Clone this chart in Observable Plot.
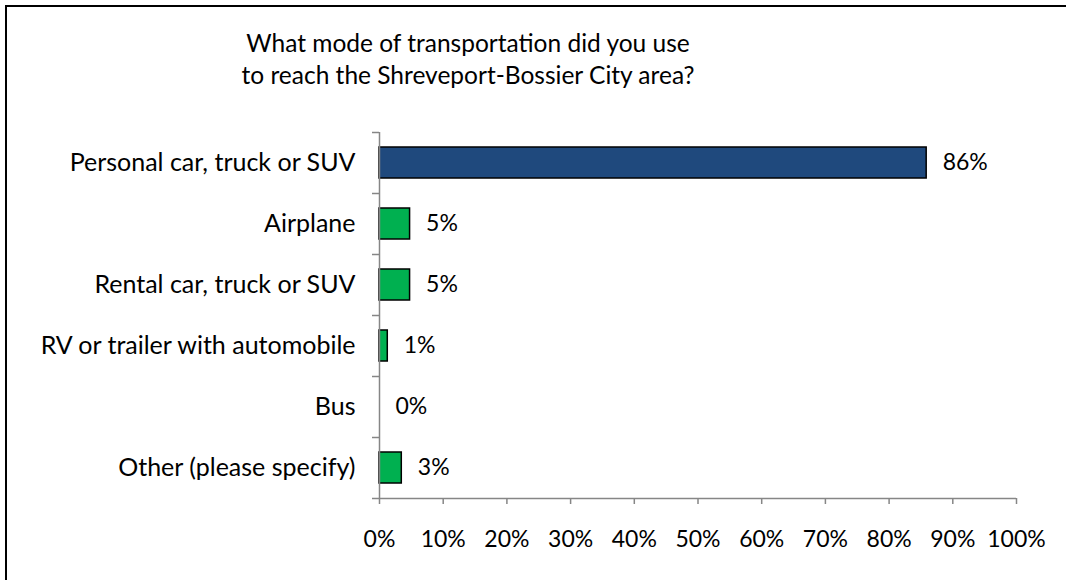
<!DOCTYPE html>
<html>
<head>
<meta charset="utf-8">
<script src="https://cdn.jsdelivr.net/npm/d3@7"></script>
<script src="https://cdn.jsdelivr.net/npm/@observablehq/plot@0.6"></script>
<style>
  html, body { margin: 0; padding: 0; background: #fff; overflow: hidden; }
  #wrap { position: relative; width: 1066px; height: 580px; overflow: hidden; background: #fff; font-family: Lato, "DejaVu Sans", sans-serif; }
  #frame { position: absolute; left: 5px; top: 5px; width: 1061px; height: 575px; box-sizing: border-box; border-top: 2px solid #000; border-left: 2px solid #000; border-right: none; border-bottom: none; }
  #title { position: absolute; left: 0; top: 27px; width: 936px; text-align: center; font-size: 24.5px; line-height: 32px; color: #000; }
  #chart { position: absolute; left: 0; top: 110px; }
</style>
</head>
<body>
<div id="wrap">
  <div id="frame"></div>
  <div id="title">What mode of transportation did you use<br>to reach the Shreveport-Bossier City area?</div>
  <div id="chart"></div>
</div>
<script>
const categories = ["Personal car, truck or SUV", "Airplane", "Rental car, truck or SUV", "RV or trailer with automobile", "Bus", "Other (please specify)"];
const values = [85.9, 4.8, 4.8, 1.3, 0, 3.5];
const labels = ["86%", "5%", "5%", "1%", "0%", "3%"];
const colors = ["#1F497D", "#00B050", "#00B050", "#00B050", "#00B050", "#00B050"];
const xTicks = [0, 10, 20, 30, 40, 50, 60, 70, 80, 90, 100];

const data = categories.map((c, i) => ({cat: c, value: values[i], label: labels[i], color: colors[i]}));

const W = 1066, H = 470, mt = 22, mb = 82, ml = 379, mr = 50;
const step = (H - mt - mb) / categories.length;
const axisGray = "#868686";
const last = categories[categories.length - 1];

const plot = Plot.plot({
  width: W,
  height: H,
  marginTop: mt,
  marginBottom: mb,
  marginLeft: ml,
  marginRight: mr,
  style: {fontFamily: "Lato, 'DejaVu Sans', sans-serif", fontSize: "23px", color: "#000", background: "transparent", overflow: "visible"},
  x: {domain: [0, 100], ticks: xTicks},
  y: {domain: categories, paddingInner: 0.5, paddingOuter: 0.25},
  marks: [
    Plot.barX(data, {x: "value", y: "cat", fill: "color", stroke: "#000", strokeWidth: 1.5}),
    Plot.text(data, {x: "value", y: "cat", text: "label", textAnchor: "start", dx: 16, fontSize: 23, fill: "#000"}),
    Plot.ruleX([0], {stroke: axisGray, strokeWidth: 1.5}),
    Plot.gridY([last], {dy: step / 2, stroke: axisGray, strokeOpacity: 1, strokeWidth: 1.5}),
    Plot.axisY({tickSize: 0, tickPadding: 24, fontSize: 25, color: "#000", label: null}),
    Plot.axisY({tickSize: 7, dy: -step / 2, tickFormat: () => "", stroke: axisGray, strokeWidth: 1.5, label: null}),
    Plot.axisY([last], {tickSize: 7, dy: step / 2, tickFormat: () => "", stroke: axisGray, strokeWidth: 1.5, label: null}),
    Plot.axisX({ticks: xTicks, tickSize: 6, tickPadding: 26, stroke: axisGray, strokeWidth: 1.5, fill: "#000", fontSize: 23, tickFormat: d => d + "%", label: null})
  ]
});
document.getElementById("chart").appendChild(plot);
</script>
</body>
</html>
